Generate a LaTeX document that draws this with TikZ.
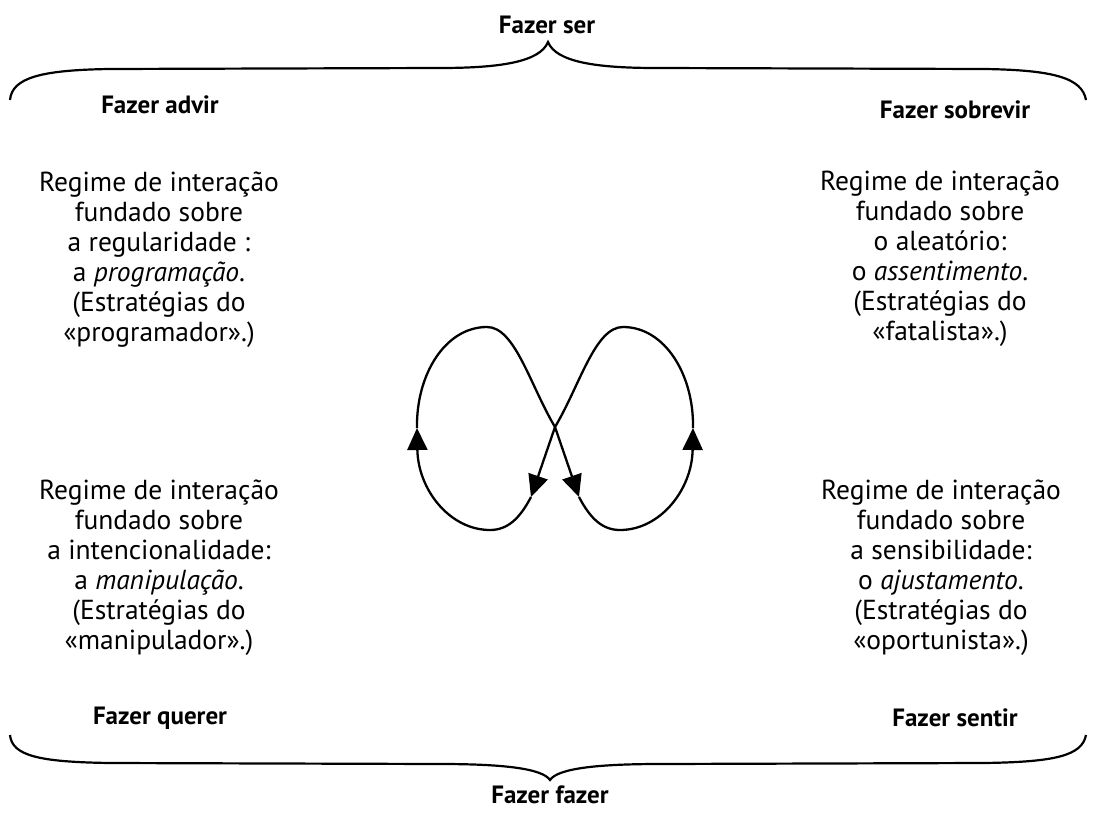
\documentclass[tikz,border=0pt]{standalone}
\usepackage{fontspec}
\setmainfont{PT Sans}
\usetikzlibrary{arrows.meta}
\begin{document}
\begin{tikzpicture}[x=1pt,y=-1pt,
  body/.style={align=center,font=\fontsize{27.5}{30}\selectfont,inner sep=0pt},
  head/.style={font=\fontsize{25}{30}\selectfont\bfseries,inner sep=0pt},
  brace/.style={line width=2.2pt},
  loop/.style={line width=2.3pt},
  tip/.style={-{Triangle[length=22pt,width=20pt]}}]
\useasboundingbox (0,0) rectangle (1094,813);
% headings
\node[head] (ser) at (547,25) {Fazer ser};
\node[head] (advir) at (160,105) {Fazer advir};
\node[head] (sobrevir) at (955,110) {Fazer sobrevir};
\node[head] (querer) at (160,718) {Fazer querer};
\node[head] (sentir) at (955,718) {Fazer sentir};
\node[head] (fazer) at (550,795) {Fazer fazer};
% body texts
\node[body] (tl) at (159,260) {Regime de interação\\fundado sobre\\a regularidade :\\a \textit{programação}.\\(Estratégias do\\«programador».)};
\node[body] (tr) at (940,259) {Regime de interação\\fundado sobre\\o aleatório:\\o \textit{assentimento}.\\(Estratégias do\\«fatalista».)};
\node[body] (bl) at (159,568) {Regime de interação\\fundado sobre\\a intencionalidade:\\a \textit{manipulação}.\\(Estratégias do\\«manipulador».)};
\node[body] (br) at (941,568) {Regime de interação\\fundado sobre\\a sensibilidade:\\o \textit{ajustamento}.\\(Estratégias do\\«oportunista».)};
% braces
\coordinate (tt) at (548,42);
\coordinate (bt) at (550,780);
\draw[brace] (10,100) .. controls (12,78) and (40,70) .. (110,69)
  -- (440,68) .. controls (500,68) and (540,62) .. (tt)
  .. controls (556,62) and (596,68) .. (656,68)
  -- (984,69) .. controls (1054,70) and (1082,78) .. (1086,100);
\draw[brace] (10,735) .. controls (12,756) and (40,762) .. (110,763)
  -- (440,764) .. controls (500,764) and (542,768) .. (bt)
  .. controls (558,768) and (600,764) .. (660,764)
  -- (984,763) .. controls (1054,762) and (1082,756) .. (1086,735);
% figure-eight loop
\coordinate (C) at (555,427);
\coordinate (A1) at (531,497);
\coordinate (B1) at (490,530);
\coordinate (L) at (417,428);
\coordinate (T1) at (487,327);
\coordinate (A2) at (579,497);
\coordinate (B2) at (620,530);
\coordinate (R) at (693,428);
\coordinate (T2) at (623,327);
\draw[loop,tip] (C) -- (A1);
\draw[loop,tip] (A1) .. controls (520,518) and (508,530) .. (B1)
  .. controls (450,530) and (418,490) .. (L);
\draw[loop] (L) .. controls (416,375) and (445,327) .. (T1)
  .. controls (515,327) and (530,385) .. (C);
\draw[loop,tip] (C) -- (A2);
\draw[loop,tip] (A2) .. controls (590,518) and (602,530) .. (B2)
  .. controls (660,530) and (692,490) .. (R);
\draw[loop] (R) .. controls (694,375) and (665,327) .. (T2)
  .. controls (595,327) and (580,385) .. (C);
\end{tikzpicture}
\end{document}
